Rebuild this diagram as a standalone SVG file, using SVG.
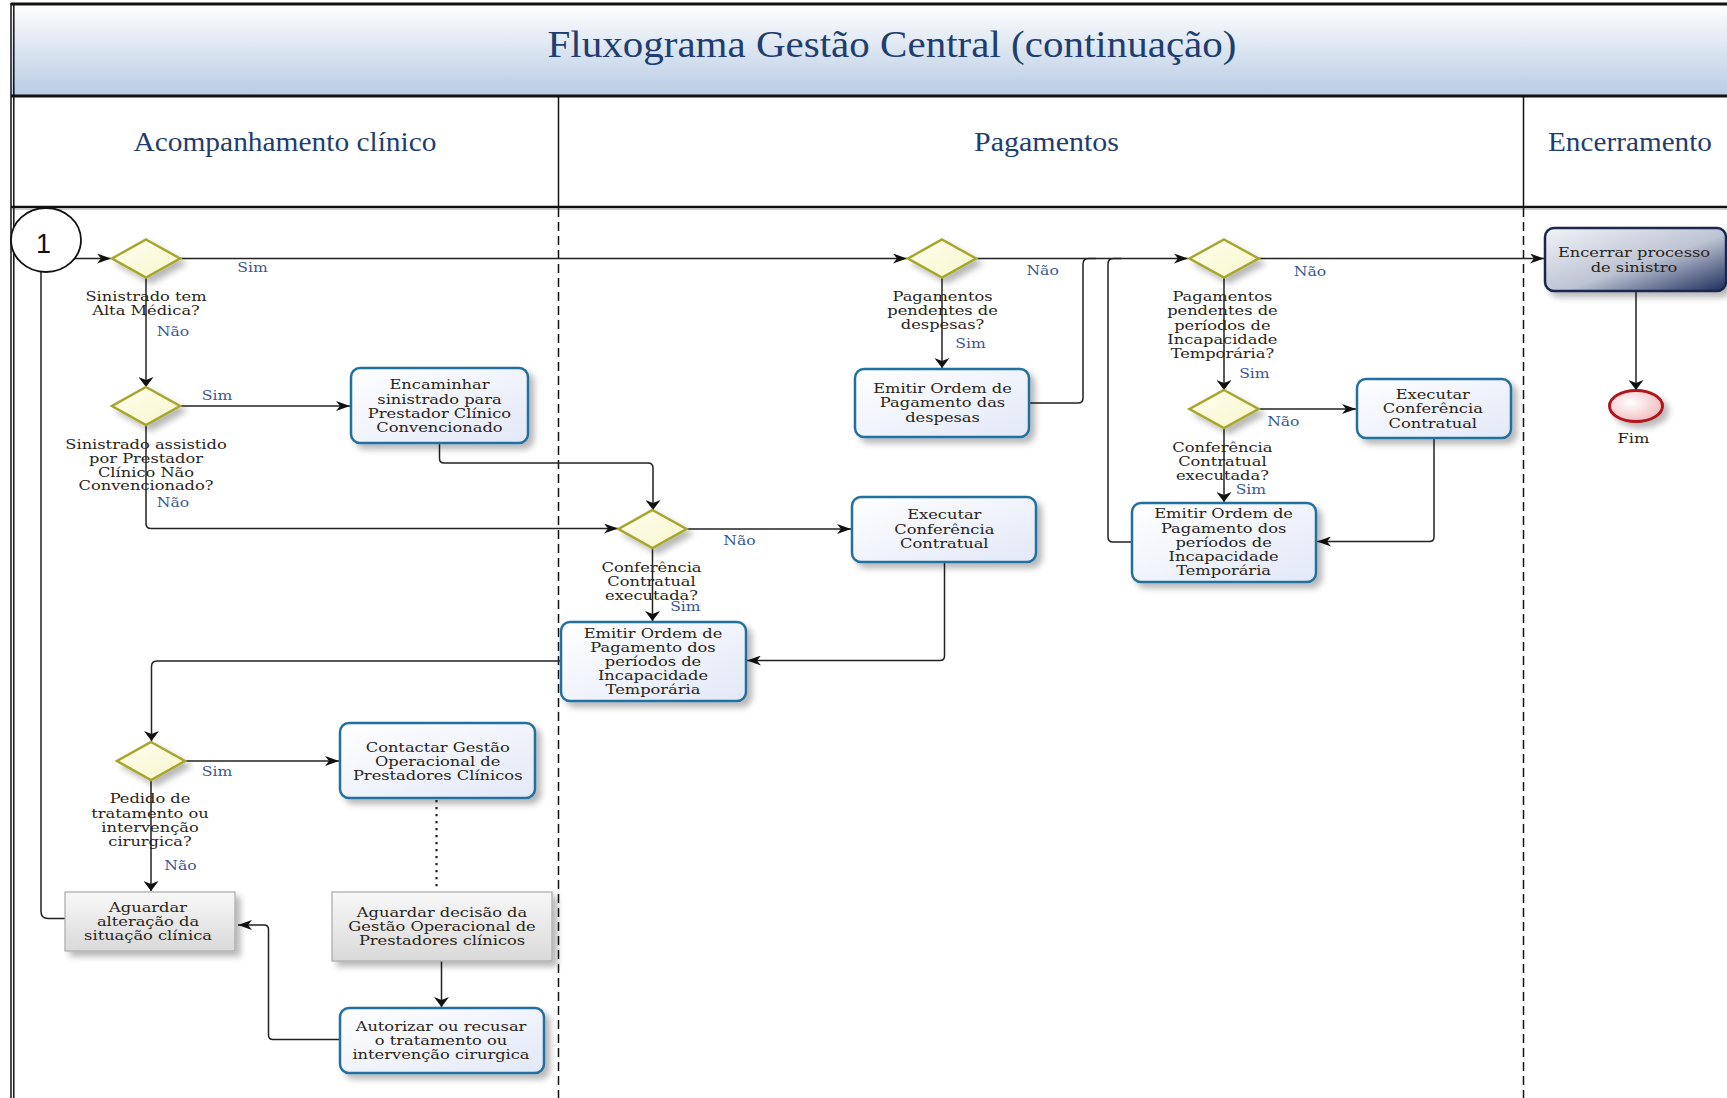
<svg xmlns="http://www.w3.org/2000/svg" width="1727" height="1098" viewBox="0 0 1727 1098">
  <defs>
    <linearGradient id="gTitle" x1="0" y1="0" x2="0" y2="1">
      <stop offset="0" stop-color="#ffffff"/>
      <stop offset="1" stop-color="#b7cbe3"/>
    </linearGradient>
    <linearGradient id="gTask" x1="0" y1="0" x2="1" y2="1">
      <stop offset="0" stop-color="#ffffff"/>
      <stop offset="1" stop-color="#e2e8f7"/>
    </linearGradient>
    <linearGradient id="gWait" x1="0" y1="0" x2="0" y2="1">
      <stop offset="0" stop-color="#f8f8f8"/>
      <stop offset="1" stop-color="#d9d9d9"/>
    </linearGradient>
    <linearGradient id="gGate" x1="0" y1="0" x2="1" y2="1">
      <stop offset="0" stop-color="#fffff2"/>
      <stop offset="1" stop-color="#f7f5c9"/>
    </linearGradient>
    <linearGradient id="gClose" x1="0" y1="0" x2="1" y2="1">
      <stop offset="0" stop-color="#f1f3f7"/>
      <stop offset="0.55" stop-color="#bcc3d3"/>
      <stop offset="1" stop-color="#1c2c5c"/>
    </linearGradient>
    <radialGradient id="gEnd" cx="0.4" cy="0.4" r="0.7">
      <stop offset="0" stop-color="#ffffff"/>
      <stop offset="1" stop-color="#f0b4b9"/>
    </radialGradient>
    <filter id="shadow" x="-20%" y="-20%" width="150%" height="170%">
      <feDropShadow dx="5" dy="5" stdDeviation="3" flood-color="#000" flood-opacity="0.28"/>
    </filter>
    <!-- arrowheads: horizontal runs get a longer head, vertical runs a wider one -->
    <marker id="ah" viewBox="0 0 14 10" markerWidth="14" markerHeight="10" refX="14" refY="5" orient="auto" markerUnits="userSpaceOnUse">
      <path d="M0,0 L14,5 L0,10 L4,5 z" fill="#111"/>
    </marker>
    <marker id="av" viewBox="0 0 10 15" markerWidth="10" markerHeight="15" refX="10" refY="7.5" orient="auto" markerUnits="userSpaceOnUse">
      <path d="M0,0 L10,7.5 L0,15 L3,7.5 z" fill="#111"/>
    </marker>
    <style>
      .lane { font-family: "Liberation Serif", "DejaVu Serif", serif; fill: #1f3d6e; }
      .t { font-family: "DejaVu Serif", "Liberation Serif", serif; font-size: 13px; fill: #2a2418; text-anchor: middle; }
      .lbl { font-family: "DejaVu Serif", "Liberation Serif", serif; font-size: 12.5px; fill: #3b5694; text-anchor: middle; }
      .task { fill: url(#gTask); stroke: #20709f; stroke-width: 2.5; filter: url(#shadow); }
      .wait { fill: url(#gWait); stroke: #a9a9a9; stroke-width: 1.2; filter: url(#shadow); }
      .gate { fill: url(#gGate); stroke: #a6a62c; stroke-width: 2.5; filter: url(#shadow); }
      .close { fill: url(#gClose); stroke: #1c2550; stroke-width: 2.5; filter: url(#shadow); }
      .end { fill: url(#gEnd); stroke: #b0141c; stroke-width: 3; filter: url(#shadow); }
      .c { fill: none; stroke: #222; stroke-width: 1.5; }
      .ch { marker-end: url(#ah); }
      .cv { marker-end: url(#av); }
      .dot { fill: none; stroke: #222; stroke-width: 2.2; stroke-dasharray: 2.2 4.8; }
      .div { stroke: #111; stroke-width: 1.5; }
      .dash { stroke: #111; stroke-width: 1.5; stroke-dasharray: 9 5; }
    </style>
  </defs>

  <rect width="1727" height="1098" fill="#ffffff"/>

  <!-- pool frame, title and lane headers -->
  <g id="frame">
    <rect x="12" y="4" width="1715" height="92" fill="url(#gTitle)"/>
    <line x1="11" y1="4" x2="1727" y2="4" stroke="#111" stroke-width="3"/>
    <line x1="11" y1="96" x2="1727" y2="96" stroke="#111" stroke-width="2.8"/>
    <line x1="11" y1="207" x2="1727" y2="207" stroke="#111" stroke-width="2.6"/>
    <line x1="11" y1="209.5" x2="1727" y2="209.5" stroke="#d0d0d0" stroke-width="1"/>
    <line x1="11" y1="3" x2="11" y2="1098" class="div" stroke-width="1.2"/>
    <line x1="13.8" y1="3" x2="13.8" y2="1098" class="div" stroke-width="1.2"/>
    <line x1="558.5" y1="96" x2="558.5" y2="207" class="div"/>
    <line x1="1523.5" y1="96" x2="1523.5" y2="207" class="div"/>
    <line x1="558.5" y1="208" x2="558.5" y2="1098" class="dash"/>
    <line x1="1523.5" y1="208" x2="1523.5" y2="1098" class="dash"/>
    <text class="lane" x="892" y="57" font-size="38" text-anchor="middle" textLength="689" lengthAdjust="spacingAndGlyphs">Fluxograma Gestão Central (continuação)</text>
    <text class="lane" x="285" y="151" font-size="28" text-anchor="middle" textLength="303" lengthAdjust="spacingAndGlyphs">Acompanhamento clínico</text>
    <text class="lane" x="1046.5" y="151" font-size="28" text-anchor="middle" textLength="145" lengthAdjust="spacingAndGlyphs">Pagamentos</text>
    <text class="lane" x="1630" y="151" font-size="28" text-anchor="middle" textLength="164" lengthAdjust="spacingAndGlyphs">Encerramento</text>
  </g>

  <!-- connectors -->
  <g id="connectors">
    <path class="c ch" d="M74,258.5 H111"/>
    <path class="c ch" d="M180,258.5 H907"/>
    <path class="c cv" d="M146,277.5 V387"/>
    <path class="c ch" d="M180,406 H350"/>
    <path class="c ch" d="M146,425 V523.5 Q146,528.5 151,528.5 H618"/>
    <path class="c cv" d="M439.5,444 V458.5 Q439.5,463 444,463 H648 Q653,463 653,468 V510"/>
    <path class="c ch" d="M686.5,529 H851"/>
    <path class="c cv" d="M652.5,548 V621"/>
    <path class="c ch" d="M944.5,562 V656 Q944.5,660.5 940,660.5 H747"/>
    <path class="c cv" d="M561,661 H157 Q151.5,661 151.5,666.5 V741"/>
    <path class="c ch" d="M185,761 H339"/>
    <path class="c cv" d="M151,780 V891"/>
    <path class="dot" d="M436.5,800 V889"/>
    <path class="c cv" d="M441.5,961 V1007"/>
    <path class="c ch" d="M340,1039.5 H273 Q268.5,1039.5 268.5,1035 V929.5 Q268.5,925 264,925 H238"/>
    <path class="c" d="M65,918.5 H48 Q41,918.5 41,911.5 V271.5"/>
    <path class="c ch" d="M976.5,258.5 H1188"/>
    <path class="c cv" d="M942,277.5 V368"/>
    <path class="c" d="M1029,403 H1078 Q1083,403 1083,398 V264 Q1083,258.5 1088.5,258.5 H1096"/>
    <path class="c" d="M1132,542 H1113 Q1108,542 1108,537 V264 Q1108,258.5 1113.5,258.5 H1121"/>
    <path class="c ch" d="M1258.5,258.5 H1544"/>
    <path class="c cv" d="M1224,277.5 V390"/>
    <path class="c ch" d="M1258.5,409 H1356"/>
    <path class="c cv" d="M1224,428 V502"/>
    <path class="c ch" d="M1434,438.5 V537 Q1434,541.5 1429.5,541.5 H1317"/>
    <path class="c cv" d="M1636,291 V390"/>

    <text class="lbl" transform="matrix(1.25 0 0 1 252.5 0)" x="0" y="272.5">Sim</text>
    <text class="lbl" transform="matrix(1.25 0 0 1 173 0)" x="0" y="336.5">Não</text>
    <text class="lbl" transform="matrix(1.25 0 0 1 217 0)" x="0" y="400.5">Sim</text>
    <text class="lbl" transform="matrix(1.25 0 0 1 173 0)" x="0" y="506.8">Não</text>
    <text class="lbl" transform="matrix(1.25 0 0 1 739.4 0)" x="0" y="545.2">Não</text>
    <text class="lbl" transform="matrix(1.25 0 0 1 685.4 0)" x="0" y="611.2">Sim</text>
    <text class="lbl" transform="matrix(1.25 0 0 1 217 0)" x="0" y="776.2">Sim</text>
    <text class="lbl" transform="matrix(1.25 0 0 1 180.4 0)" x="0" y="870.5">Não</text>
    <text class="lbl" transform="matrix(1.25 0 0 1 1042.6 0)" x="0" y="275.5">Não</text>
    <text class="lbl" transform="matrix(1.25 0 0 1 970.5 0)" x="0" y="348.5">Sim</text>
    <text class="lbl" transform="matrix(1.25 0 0 1 1310 0)" x="0" y="276.2">Não</text>
    <text class="lbl" transform="matrix(1.25 0 0 1 1254.4 0)" x="0" y="377.8">Sim</text>
    <text class="lbl" transform="matrix(1.25 0 0 1 1283.3 0)" x="0" y="426.2">Não</text>
    <text class="lbl" transform="matrix(1.25 0 0 1 1250.9 0)" x="0" y="493.8">Sim</text>
  </g>

  <!-- off-page connector -->
  <g id="ref1">
    <ellipse cx="46" cy="240" rx="35" ry="32" fill="#ffffff" stroke="#111" stroke-width="1.8"/>
    <text x="43.5" y="253" font-family="Liberation Sans, Arial, sans-serif" font-size="27" text-anchor="middle" fill="#111">1</text>
  </g>

  <!-- Acompanhamento clínico -->
  <g id="gwAltaMedica">
    <polygon class="gate" points="146,239.5 180,258.5 146,277.5 112,258.5"/>
    <text class="t" transform="matrix(1.25 0 0 1 146 0)"><tspan x="0" y="301.2">Sinistrado tem</tspan><tspan x="0" y="315.5">Alta Médica?</tspan></text>
  </g>
  <g id="gwNaoConvencionado">
    <polygon class="gate" points="146,387 180,406 146,425 112,406"/>
    <text class="t" transform="matrix(1.25 0 0 1 146 0)"><tspan x="0" y="448.8">Sinistrado assistido</tspan><tspan x="0" y="463.5">por Prestador</tspan><tspan x="0" y="477.2">Clínico Não</tspan><tspan x="0" y="490.5">Convencionado?</tspan></text>
  </g>
  <g id="taskEncaminhar">
    <rect class="task" x="351" y="368" width="177" height="75" rx="9"/>
    <text class="t" transform="matrix(1.25 0 0 1 439.5 0)"><tspan x="0" y="389.5">Encaminhar</tspan><tspan x="0" y="403.8">sinistrado  para</tspan><tspan x="0" y="417.8">Prestador Clínico</tspan><tspan x="0" y="432.2">Convencionado</tspan></text>
  </g>
  <g id="gwTratamento">
    <polygon class="gate" points="151,742 185,761 151,780 117,761"/>
    <text class="t" transform="matrix(1.25 0 0 1 150 0)"><tspan x="0" y="803.5">Pedido de</tspan><tspan x="0" y="818.2">tratamento ou</tspan><tspan x="0" y="832.2">intervenção</tspan><tspan x="0" y="846.2">cirurgica?</tspan></text>
  </g>
  <g id="taskContactar">
    <rect class="task" x="340" y="723" width="195" height="75" rx="9"/>
    <text class="t" transform="matrix(1.25 0 0 1 437.7 0)"><tspan x="0" y="751.8">Contactar Gestão</tspan><tspan x="0" y="766.2">Operacional de</tspan><tspan x="0" y="780.2">Prestadores Clínicos</tspan></text>
  </g>
  <g id="waitAlteracao">
    <rect class="wait" x="65" y="892" width="170" height="59"/>
    <text class="t" transform="matrix(1.25 0 0 1 148 0)"><tspan x="0" y="911.8">Aguardar</tspan><tspan x="0" y="926.2">alteração da</tspan><tspan x="0" y="940.2">situação clínica</tspan></text>
  </g>
  <g id="waitDecisao">
    <rect class="wait" x="332" y="892" width="220" height="69"/>
    <text class="t" transform="matrix(1.25 0 0 1 442 0)"><tspan x="0" y="916.8">Aguardar decisão da</tspan><tspan x="0" y="931.2">Gestão Operacional de</tspan><tspan x="0" y="945.2">Prestadores clínicos</tspan></text>
  </g>
  <g id="taskAutorizar">
    <rect class="task" x="340" y="1008" width="204" height="65" rx="9"/>
    <text class="t" transform="matrix(1.25 0 0 1 441 0)"><tspan x="0" y="1031.2">Autorizar ou recusar</tspan><tspan x="0" y="1044.8">o tratamento ou</tspan><tspan x="0" y="1059.5">intervenção cirurgica</tspan></text>
  </g>

  <!-- Pagamentos -->
  <g id="gwConferencia1">
    <polygon class="gate" points="652.5,510 686.5,529 652.5,548 618.5,529"/>
    <text class="t" transform="matrix(1.25 0 0 1 651.5 0)"><tspan x="0" y="571.8">Conferência</tspan><tspan x="0" y="586.2">Contratual</tspan><tspan x="0" y="600.2">executada?</tspan></text>
  </g>
  <g id="taskConferencia1">
    <rect class="task" x="852" y="497" width="184" height="65" rx="9"/>
    <text class="t" transform="matrix(1.25 0 0 1 944.3 0)"><tspan x="0" y="519.5">Executar</tspan><tspan x="0" y="533.8">Conferência</tspan><tspan x="0" y="547.8">Contratual</tspan></text>
  </g>
  <g id="taskOrdemIT1">
    <rect class="task" x="561" y="622" width="185" height="79" rx="9"/>
    <text class="t" transform="matrix(1.25 0 0 1 653 0)"><tspan x="0" y="637.8">Emitir Ordem de</tspan><tspan x="0" y="651.8">Pagamento dos</tspan><tspan x="0" y="666.2">períodos de</tspan><tspan x="0" y="680.2">Incapacidade</tspan><tspan x="0" y="694.5">Temporária</tspan></text>
  </g>
  <g id="gwDespesas">
    <polygon class="gate" points="942,239.5 976,258.5 942,277.5 908,258.5"/>
    <text class="t" transform="matrix(1.25 0 0 1 942.5 0)"><tspan x="0" y="301.2">Pagamentos</tspan><tspan x="0" y="315.5">pendentes de</tspan><tspan x="0" y="329.5">despesas?</tspan></text>
  </g>
  <g id="taskOrdemDespesas">
    <rect class="task" x="855" y="369" width="174" height="68" rx="9"/>
    <text class="t" transform="matrix(1.25 0 0 1 942.5 0)"><tspan x="0" y="393.5">Emitir Ordem de</tspan><tspan x="0" y="407.5">Pagamento das</tspan><tspan x="0" y="422.2">despesas</tspan></text>
  </g>
  <g id="gwPeriodosIT">
    <polygon class="gate" points="1224,239.5 1258.5,258.5 1224,277.5 1189.5,258.5"/>
    <text class="t" transform="matrix(1.25 0 0 1 1222.4 0)"><tspan x="0" y="301.2">Pagamentos</tspan><tspan x="0" y="315.5">pendentes de</tspan><tspan x="0" y="329.8">períodos de</tspan><tspan x="0" y="343.8">Incapacidade</tspan><tspan x="0" y="357.8">Temporária?</tspan></text>
  </g>
  <g id="gwConferencia2">
    <polygon class="gate" points="1224,390 1258.5,409 1224,428 1189.5,409"/>
    <text class="t" transform="matrix(1.25 0 0 1 1222.4 0)"><tspan x="0" y="451.8">Conferência</tspan><tspan x="0" y="466.2">Contratual</tspan><tspan x="0" y="480.5">executada?</tspan></text>
  </g>
  <g id="taskConferencia2">
    <rect class="task" x="1357" y="379" width="154" height="59" rx="9"/>
    <text class="t" transform="matrix(1.25 0 0 1 1432.8 0)"><tspan x="0" y="399.5">Executar</tspan><tspan x="0" y="413.5">Conferência</tspan><tspan x="0" y="427.8">Contratual</tspan></text>
  </g>
  <g id="taskOrdemIT2">
    <rect class="task" x="1132" y="503" width="184" height="79" rx="9"/>
    <text class="t" transform="matrix(1.25 0 0 1 1223.6 0)"><tspan x="0" y="518.5">Emitir Ordem de</tspan><tspan x="0" y="532.8">Pagamento dos</tspan><tspan x="0" y="547.2">períodos de</tspan><tspan x="0" y="561.2">Incapacidade</tspan><tspan x="0" y="575.2">Temporária</tspan></text>
  </g>

  <!-- Encerramento -->
  <g id="taskEncerrar">
    <rect class="close" x="1545" y="228" width="181" height="63" rx="9"/>
    <text class="t" transform="matrix(1.25 0 0 1 1634 0)"><tspan x="0" y="257.2">Encerrar processo</tspan><tspan x="0" y="271.8">de sinistro</tspan></text>
  </g>
  <g id="endFim">
    <ellipse class="end" cx="1636" cy="406" rx="26.5" ry="15.5"/>
    <text class="t" transform="matrix(1.25 0 0 1 1633.5 0)" x="0" y="443.5">Fim</text>
  </g>
</svg>
